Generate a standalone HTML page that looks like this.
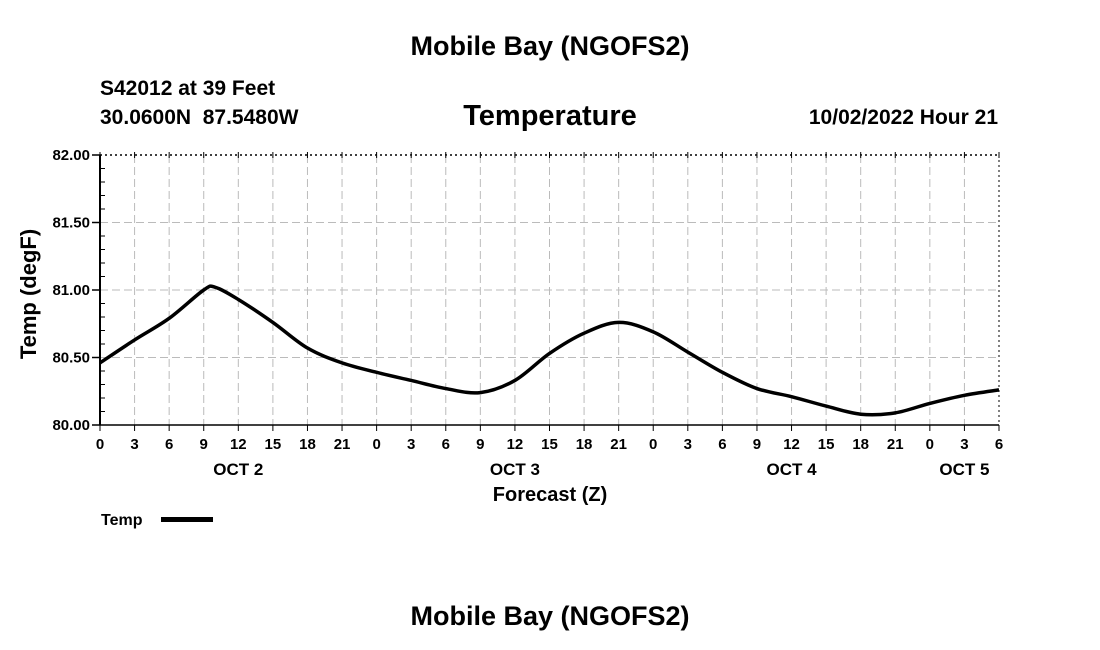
<!DOCTYPE html>
<html><head><meta charset="utf-8"><style>
body{margin:0;background:#fff;}
svg{display:block;font-family:"Liberation Sans",Arial,sans-serif;}
</style></head><body>
<svg id="chart" width="1100" height="650">
<text x="550" y="55" text-anchor="middle" font-size="27" font-weight="bold">Mobile Bay (NGOFS2)</text>
<text x="100" y="95" font-size="21" font-weight="bold">S42012 at 39 Feet</text>
<text x="100" y="124" font-size="21" font-weight="bold" xml:space="preserve">30.0600N  87.5480W</text>
<text x="550" y="125" text-anchor="middle" font-size="29" font-weight="bold">Temperature</text>
<text x="998" y="124" text-anchor="end" font-size="21" font-weight="bold">10/02/2022 Hour 21</text>
<g id="grid"></g>
<g id="axes"></g>
<path id="line" fill="none" stroke="#000" stroke-width="3.5"></path>
<text transform="translate(36,294) rotate(-90)" text-anchor="middle" font-size="22" font-weight="bold">Temp (degF)</text>
<text x="550" y="501" text-anchor="middle" font-size="20" font-weight="bold">Forecast (Z)</text>
<g>
<text x="101" y="525" font-size="16" font-weight="bold">Temp</text>
<rect x="161" y="517" width="52" height="5" fill="#000"></rect>
</g>
<text x="550" y="625" text-anchor="middle" font-size="27" font-weight="bold">Mobile Bay (NGOFS2)</text>
</svg>
<script>
const hours=[0,3,6,9,10,12,15,18,21,24,27,30,33,36,39,42,45,48,51,54,57,60,63,66,69,72,75,78];
const temps=[80.46,80.63,80.79,81.0,81.02,80.93,80.76,80.57,80.46,80.39,80.33,80.27,80.24,80.33,80.53,80.68,80.76,80.69,80.54,80.39,80.27,80.21,80.14,80.08,80.09,80.16,80.22,80.26];
const yTicks=[80.00,80.50,81.00,81.50,82.00];
const xTickLabels=["0","3","6","9","12","15","18","21","0","3","6","9","12","15","18","21","0","3","6","9","12","15","18","21","0","3","6"];
const dayLabels=["OCT 2","OCT 3","OCT 4","OCT 5"];
const dayHours=[12,36,60,75];
const X0=100,X1=999,Y0=425,Y1=155,HMAX=78,VMIN=80,VMAX=82;
const xs=h=>X0+(h/HMAX)*(X1-X0);
const ys=v=>Y0-(v-VMIN)/(VMAX-VMIN)*(Y0-Y1);
const NS="http://www.w3.org/2000/svg";
const grid=document.getElementById('grid'),axes=document.getElementById('axes');
function mk(tag,attrs,parent){const e=document.createElementNS(NS,tag);for(const k in attrs)e.setAttribute(k,attrs[k]);parent.appendChild(e);return e;}
yTicks.forEach(v=>{
  const y=ys(v);
  const g=mk('line',{x1:X0,x2:X1,y1:y,y2:y,stroke:(v===VMIN||v===VMAX)?'#000':'#bbb','stroke-width':(v===VMAX)?1.5:1,'stroke-dasharray':(v===VMIN)?'':(v===VMAX?'2,3':'8,4')},grid);
  
  
  const t=mk('text',{x:X0-10,y:y+5,'text-anchor':'end','font-size':15,'font-weight':'bold'},axes);
  t.textContent=v.toFixed(2);
  
  
  mk('line',{x1:X0-8,x2:X0,y1:y,y2:y,stroke:'#000','stroke-width':1.5},axes);
});
for(let k=1;k<20;k++){ if(k%5===0) continue; const y=ys(VMIN+k*0.1); mk('line',{x1:X0,x2:X0+5,y1:y,y2:y,stroke:'#000'},axes); }
xTickLabels.forEach((lab,i)=>{
  const x=xs(i*3);
  const g=mk('line',{x1:x,x2:x,y1:Y1,y2:Y0,stroke:(i===0||i===xTickLabels.length-1)?'#000':'#bbb','stroke-width':1,'stroke-dasharray':(i===0)?'':(i===xTickLabels.length-1?'2,3':'8,4')},grid);
  
  
  mk('line',{x1:x,x2:x,y1:Y0,y2:Y0+6,stroke:'#000'},axes);
  mk('line',{x1:x,x2:x,y1:Y1-3,y2:Y1+3,stroke:'#000'},axes);
  const t=mk('text',{x:x,y:Y0+24,'text-anchor':'middle','font-size':15,'font-weight':'bold'},axes);
  t.textContent=lab;
  
  
});
dayLabels.forEach((d,i)=>{
  const t=mk('text',{x:xs(dayHours[i]),y:Y0+50,'text-anchor':'middle','font-size':17,'font-weight':'bold'},axes);
  t.textContent=d;
  
  
});
mk('line',{x1:X0,x2:X1,y1:Y0,y2:Y0,stroke:'#000','stroke-width':1.5},axes);
mk('line',{x1:X0,x2:X0,y1:Y1,y2:Y0,stroke:'#000','stroke-width':2},axes);
const pts=hours.map((h,i)=>[xs(h),ys(temps[i])]);
let d='M'+pts[0][0]+','+pts[0][1];
for(let i=0;i<pts.length-1;i++){
  const p0=pts[i-1]||pts[i],p1=pts[i],p2=pts[i+1],p3=pts[i+2]||p2;
  const c1=[p1[0]+(p2[0]-p0[0])/6,p1[1]+(p2[1]-p0[1])/6];
  const c2=[p2[0]-(p3[0]-p1[0])/6,p2[1]-(p3[1]-p1[1])/6];
  d+=` C${c1[0]},${c1[1]} ${c2[0]},${c2[1]} ${p2[0]},${p2[1]}`;
}
document.getElementById('line').setAttribute('d',d);
</script>
</body></html>
